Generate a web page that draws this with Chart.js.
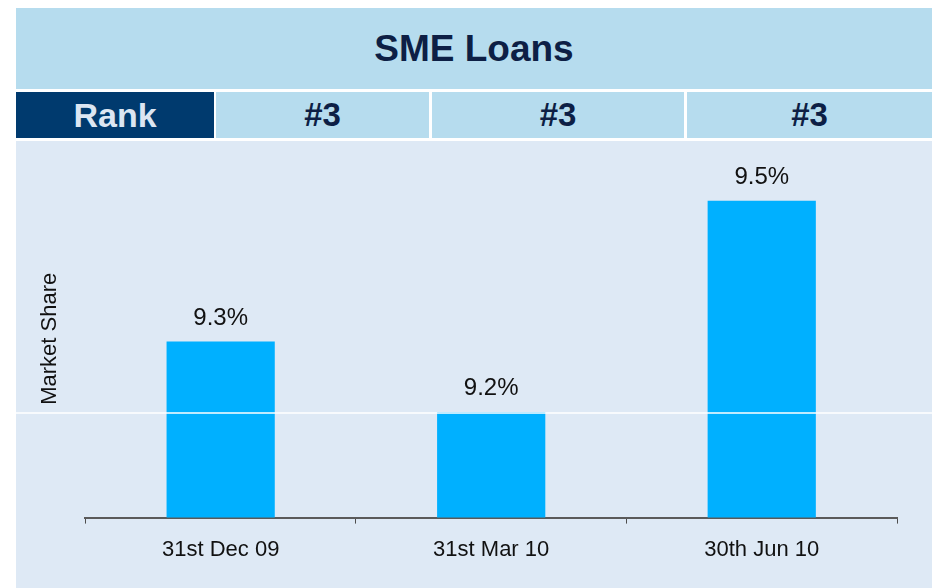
<!DOCTYPE html>
<html>
<head>
<meta charset="utf-8">
<script src="https://cdn.jsdelivr.net/npm/chart.js@4.4.1/dist/chart.umd.min.js"></script>
<style>
  body { margin: 0; background: #fff; font-family: "Liberation Sans", Arial, sans-serif; }
  .box { position: absolute; box-sizing: border-box; text-align: center; font-weight: bold; }
  .title { left: 16px; top: 8px; width: 916px; height: 81px; line-height: 81px; background: #b6dcee; color: #0d1f45; font-size: 37px; }
  .cell { top: 92px; height: 46px; line-height: 46px; background: #b6dcee; color: #0d1f45; font-size: 33px; }
  .rank { background: #003a6e; color: #dce6f2; font-size: 34px; }
  .panel { left: 16px; top: 141px; width: 916px; height: 447px; background: #dee9f5; }
</style>
</head>
<body>
<div class="box title" id="title"></div>
<div id="rankRow"></div>
<div class="box panel"><canvas id="chart" width="916" height="447"></canvas></div>
<script>
const chartTitle = 'SME Loans';
const rankLabel = 'Rank';
const ranks = ['#3', '#3', '#3'];
const periods = ['31st Dec 09', '31st Mar 10', '30th Jun 10'];
const marketShare = [9.3, 9.2, 9.5];
const gridValues = [9.2];

document.getElementById('title').textContent = chartTitle;

// rank row: first cell + one cell per period
const cellEdges = [[16, 214], [216, 429], [432, 684], [687, 932]];
const rowTexts = [rankLabel].concat(ranks);
const row = document.getElementById('rankRow');
rowTexts.forEach((t, i) => {
  const d = document.createElement('div');
  d.className = 'box cell' + (i === 0 ? ' rank' : '');
  d.style.left = cellEdges[i][0] + 'px';
  d.style.width = (cellEdges[i][1] - cellEdges[i][0]) + 'px';
  d.textContent = t;
  row.appendChild(d);
});

// white line across the whole panel, on top of the bars
const fullGrid = {
  id: 'fullGrid',
  afterDatasetsDraw(chart) {
    const ctx = chart.ctx;
    const y = chart.scales.y;
    ctx.save();
    ctx.strokeStyle = '#ffffff';
    ctx.lineWidth = 1.5;
    gridValues.forEach(v => {
      const py = Math.round(y.getPixelForValue(v)) + 1;
      ctx.beginPath();
      ctx.moveTo(0, py);
      ctx.lineTo(chart.width, py);
      ctx.stroke();
    });
    ctx.restore();
  }
};

const valueLabels = {
  id: 'valueLabels',
  afterDatasetsDraw(chart) {
    const ctx = chart.ctx;
    ctx.save();
    ctx.font = '24px "Liberation Sans", Arial, sans-serif';
    ctx.fillStyle = '#111111';
    ctx.textAlign = 'center';
    ctx.textBaseline = 'alphabetic';
    chart.getDatasetMeta(0).data.forEach((bar, i) => {
      ctx.fillText(marketShare[i].toFixed(1) + '%', bar.x, bar.y - 17);
    });
    ctx.restore();
  }
};

new Chart(document.getElementById('chart'), {
  type: 'bar',
  data: {
    labels: periods,
    datasets: [{
      label: 'Market Share',
      data: marketShare,
      backgroundColor: '#00b0ff',
      borderWidth: 0,
      barPercentage: 0.4,
      categoryPercentage: 1
    }]
  },
  options: {
    responsive: false,
    animation: false,
    devicePixelRatio: 1,
    layout: { padding: { left: 16.4, right: 35, top: 19, bottom: 12 } },
    plugins: { legend: { display: false }, tooltip: { enabled: false } },
    scales: {
      x: {
        grid: { offset: true, drawOnChartArea: false, drawTicks: true, tickLength: 6, color: '#4d4d4d', lineWidth: 1 },
        border: { display: true, color: '#5a5a5a', width: 2 },
        ticks: { color: '#111111', padding: 13, font: { family: '"Liberation Sans", Arial, sans-serif', size: 22 } }
      },
      y: {
        min: 9.05,
        max: 9.558,
        grid: { display: false },
        border: { display: false },
        ticks: { display: false },
        title: {
          display: true,
          text: 'Market Share',
          color: '#111111',
          padding: { top: 4, bottom: 14.6 },
          font: { family: '"Liberation Sans", Arial, sans-serif', size: 22 }
        }
      }
    }
  },
  plugins: [fullGrid, valueLabels]
});
</script>
</body>
</html>
